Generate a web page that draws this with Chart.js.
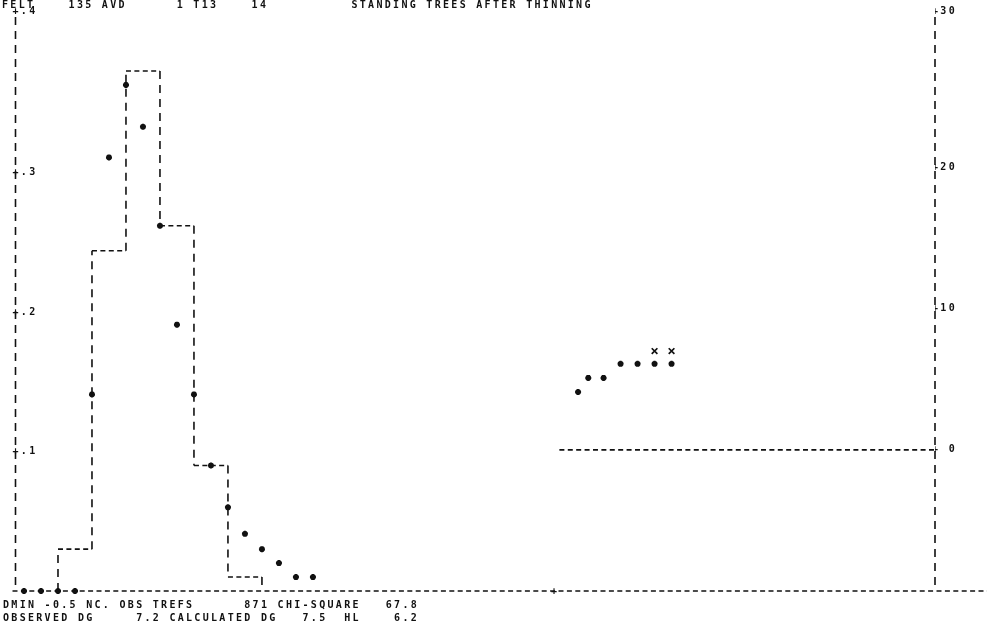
<!DOCTYPE html>
<html>
<head>
<meta charset="utf-8">
<script src="https://cdn.jsdelivr.net/npm/chart.js@4/dist/chart.umd.min.js"></script>
<style>
  html,body{margin:0;background:#fff}
  #wrap{width:987px;height:632px;position:relative}
</style>
</head>
<body>
<div id="wrap"><canvas id="c"></canvas></div>
<script>
/* ---------- data ---------- */

// observed distribution, share of trees per 2 cm class (left scale)
const histEdges  = [2, 4, 6, 8, 10, 12, 14];
const histValues = [0.030, 0.244, 0.373, 0.262, 0.090, 0.010];

// calculated distribution, one '*' per cm
const curveX = [0, 1, 2, 3, 4, 5, 6, 7, 8, 9, 10, 11, 12, 13, 14, 15, 16, 17];
const curveY = [0, 0, 0, 0, 0.141, 0.311, 0.363, 0.333, 0.262, 0.191, 0.141, 0.090, 0.060, 0.041, 0.030, 0.020, 0.010, 0.010];

// heights, right scale
const heightX = [32.6, 33.2, 34.1, 35.1, 36.1, 37.1, 38.1];
const heightY = [4.1, 5.1, 5.1, 6.1, 6.1, 6.1, 6.1];
const obsHeightX = [37.1, 38.1];
const obsHeightY = [7.0, 7.0];
const zeroLineFrom = 31.5;
const baseTickAt = [31.2];

// axes
const xMin = -0.5, xMax = 53.6;
const leftMax = 0.416;
const rightMin = -10, rightMax = 31.1;
const leftTicks = [0.1, 0.2, 0.3, 0.4];
const leftTickLabels = ['+.1', '+.2', '+.3', '+.4'];
const rightTicks = [0, 10, 20, 30];
const rightTickLabels = ['+ 0', '+10', '+20', '+30'];

// printed text
const headerText = 'FELT    135 AVD      1 T13    14          STANDING TREES AFTER THINNING';
const footerLines = [
  'DMIN -0.5 NC. OBS TREFS      871 CHI-SQUARE   67.8',
  'OBSERVED DG     7.2 CALCULATED DG   7.5  HL    6.2'
];

/* ---------- helpers ---------- */
const INK = '#111';
const MONO = '"DejaVu Sans Mono", "Liberation Mono", monospace';
const SPACING = '2.3px';
const VDASH = [8, 6], HDASH = [5, 3.4];

// class tops, each its own run of '-' (y:null breaks the line)
function histTops(){
  const pts = [];
  histValues.forEach((v, i) => {
    pts.push({x: histEdges[i], y: v}, {x: histEdges[i+1], y: v}, {x: histEdges[i+1], y: null});
  });
  return pts;
}
// risers between classes, runs of '|'
function histSides(){
  const vals = [0, ...histValues, 0];
  const pts = [];
  histEdges.forEach((e, i) => {
    pts.push({x: e, y: vals[i]}, {x: e, y: vals[i+1]}, {x: e, y: null});
  });
  return pts;
}
const zip = (xs, ys) => xs.map((x, i) => ({x, y: ys[i]}));

// ticks: top label sits on the top row of the print
function topTicks(values){
  return function(scale){
    scale.ticks = values.map((v, i) => ({value: i === values.length-1 ? scale.max : v}));
  };
}

/* ---------- printer frame + text ---------- */
const printerFrame = {
  id: 'printerFrame',
  beforeDraw(chart){ chart.ctx.letterSpacing = SPACING; },
  beforeDatasetsDraw(chart){
    const {ctx, chartArea: a, scales} = chart;
    const y0 = scales.y.getPixelForValue(0);
    ctx.save();
    ctx.strokeStyle = INK;
    ctx.lineWidth = 1.6;
    // left axis
    ctx.setLineDash(VDASH);
    ctx.beginPath(); ctx.moveTo(a.left, a.top + 6); ctx.lineTo(a.left, y0 - 4); ctx.stroke();
    // right axis
    ctx.beginPath(); ctx.moveTo(a.right, a.top + 6); ctx.lineTo(a.right, y0 - 6); ctx.stroke();
    // baseline runs off the page
    ctx.setLineDash(HDASH);
    ctx.beginPath(); ctx.moveTo(a.left - 3, y0); ctx.lineTo(chart.width, y0); ctx.stroke();
    ctx.restore();
  },
  afterDraw(chart){
    const {ctx, scales} = chart;
    ctx.save();
    ctx.letterSpacing = SPACING;
    ctx.fillStyle = INK;
    ctx.font = 'bold 10px ' + MONO;
    ctx.textBaseline = 'middle';
    ctx.textAlign = 'left';
    ctx.fillText(headerText, 2, 5);
    footerLines.forEach((t, i) => ctx.fillText(t, 3, 605 + i*13));
    const y0 = scales.y.getPixelForValue(0);
    ctx.textAlign = 'center';
    baseTickAt.forEach(v => ctx.fillText('+', scales.x.getPixelForValue(v) + 1, y0));
    ctx.restore();
  }
};

/* ---------- chart ---------- */
const tickFont = {family: MONO, size: 10, weight: 'bold'};
const lineBits = {borderColor: INK, borderWidth: 1.6, pointRadius: 0, spanGaps: false};

new Chart(document.getElementById('c'), {
  type: 'line',
  data: {
    datasets: [
      Object.assign({label: 'observed tops', data: histTops(), yAxisID: 'y', borderDash: HDASH}, lineBits),
      Object.assign({label: 'observed sides', data: histSides(), yAxisID: 'y', borderDash: VDASH}, lineBits),
      {
        label: 'calculated',
        data: zip(curveX, curveY),
        yAxisID: 'y',
        showLine: false,
        pointStyle: 'star',
        pointRadius: 3,
        borderWidth: 2,
        borderColor: INK,
        backgroundColor: INK,
        clip: false
      },
      Object.assign({label: 'height zero', data: [{x: zeroLineFrom, y: 0}, {x: xMax, y: 0}], yAxisID: 'y2', borderDash: HDASH}, lineBits),
      {
        label: 'height',
        data: zip(heightX, heightY),
        yAxisID: 'y2',
        showLine: false,
        pointStyle: 'star',
        pointRadius: 3,
        borderWidth: 2,
        borderColor: INK
      },
      {
        label: 'observed height',
        data: zip(obsHeightX, obsHeightY),
        yAxisID: 'y2',
        showLine: false,
        pointStyle: 'crossRot',
        pointRadius: 4,
        borderWidth: 1.7,
        borderColor: INK
      }
    ]
  },
  options: {
    responsive: true,
    maintainAspectRatio: false,
    animation: false,
    layout: {padding: {top: 11, bottom: 41, left: 0, right: 0}},
    plugins: {legend: {display: false}, tooltip: {enabled: false}},
    scales: {
      x: {type: 'linear', min: xMin, max: xMax, display: false},
      y: {
        type: 'linear', position: 'left', min: 0, max: leftMax,
        grid: {display: false, drawTicks: false},
        border: {display: false},
        afterBuildTicks: topTicks(leftTicks),
        afterFit: s => { s.width = 15.5; },
        ticks: {
          mirror: true, padding: -3, color: INK, font: tickFont,
          callback: (v, i) => leftTickLabels[i]
        }
      },
      y2: {
        type: 'linear', position: 'right', min: rightMin, max: rightMax,
        grid: {display: false, drawTicks: false},
        border: {display: false},
        afterBuildTicks: topTicks(rightTicks),
        afterFit: s => { s.width = 52; },
        ticks: {
          padding: -3, color: INK, font: tickFont,
          callback: (v, i) => rightTickLabels[i]
        }
      }
    }
  },
  plugins: [printerFrame]
});
</script>
</body>
</html>
